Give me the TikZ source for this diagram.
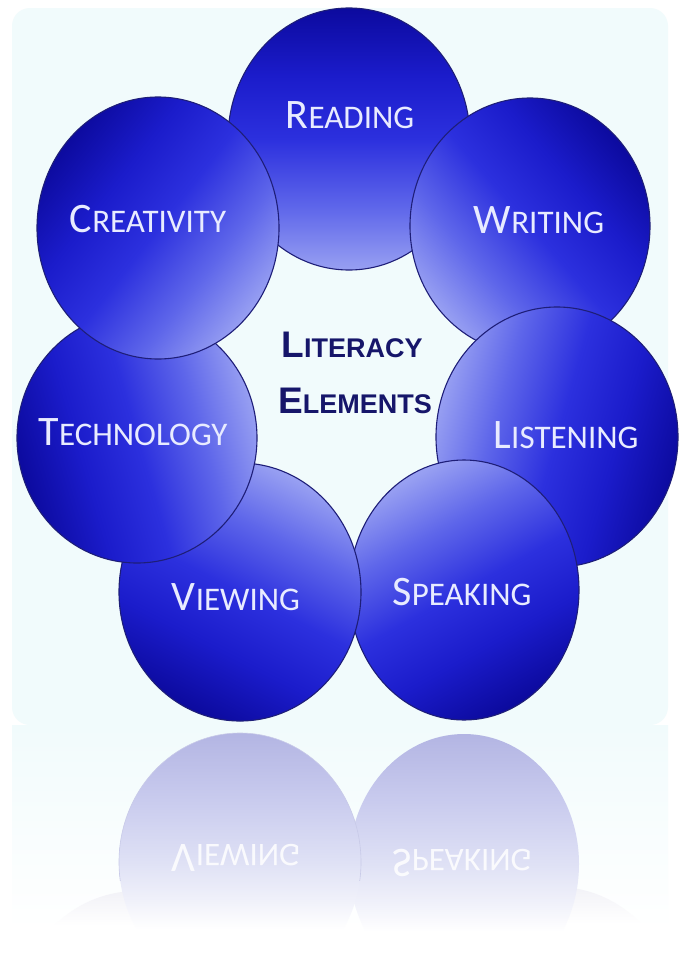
\documentclass[tikz,border=0pt]{standalone}
\usepackage{fontspec}
\setmainfont{Carlito}
\newfontfamily\litfont{Liberation Sans}
\usetikzlibrary{shapes.geometric}
\definecolor{edgec}{HTML}{1E1E78}
\definecolor{labc}{HTML}{E8EBFF}
\definecolor{navy}{HTML}{16166A}
\definecolor{panel}{HTML}{F1FBFC}
\definecolor{rfe}{HTML}{C8CAE8}
\pgfdeclareverticalshading{ballsh}{100bp}{color(0bp)=(rgb,255:red,152;green,160;blue,242);
  color(25bp)=(rgb,255:red,152;green,160;blue,242);
  color(37bp)=(rgb,255:red,94;green,102;blue,234);
  color(50bp)=(rgb,255:red,44;green,48;blue,222);
  color(62bp)=(rgb,255:red,27;green,28;blue,203);
  color(75bp)=(rgb,255:red,12;green,10;blue,158);
  color(100bp)=(rgb,255:red,12;green,10;blue,158)}
\pgfdeclareverticalshading{reflsh}{100bp}{color(0bp)=(white);
  color(37bp)=(white);
  color(42.6bp)=(rgb,255:red,240;green,241;blue,250);
  color(50bp)=(rgb,255:red,223;green,225;blue,245);
  color(62bp)=(rgb,255:red,201;green,203;blue,238);
  color(75bp)=(rgb,255:red,179;green,181;blue,227);
  color(100bp)=(rgb,255:red,179;green,181;blue,227)}
\pgfdeclareverticalshading{faintsh}{100bp}{color(0bp)=(white);
  color(68bp)=(white);
  color(75bp)=(rgb,255:red,242;green,242;blue,247);
  color(100bp)=(rgb,255:red,242;green,242;blue,247)}
\newcommand\bigsm[2]{{\fontsize{42}{42}\selectfont #1}{\fontsize{33}{33}\selectfont #2}}
\newcommand\litsm[2]{{\fontsize{37}{37}\selectfont #1}{\fontsize{27}{27}\selectfont #2}}
\begin{document}
\begin{tikzpicture}[x=1pt,y=-1pt,
  ball/.style={ellipse, draw=edgec, line width=1.1pt, inner sep=0pt, shading=ballsh},
  lbl/.style={anchor=base, text=labc, inner sep=0pt},
  ctr/.style={anchor=base, text=navy, inner sep=0pt, font=\litfont\bfseries},
  refl/.style={ellipse, draw=none, inner sep=0pt, shading=reflsh},
  reflfaint/.style={ellipse, draw=none, inner sep=0pt, shading=faintsh},
  rlbl/.style={anchor=base, text=white, inner sep=0pt, yscale=-1,
    transform shape, opacity=0.85}]
\useasboundingbox (0,0) rectangle (680,956);
\fill[white] (0,0) rectangle (680,956);
% background panel and its reflection
\fill[panel, rounded corners=18pt] (12,8) rectangle (668,725);
\shade[top color=panel, bottom color=white] (12,725) rectangle (668,930);
% reflection
\begin{scope}
\clip (0,727) rectangle (680,940);
\node[reflfaint, minimum width=240pt, minimum height=250pt] (rtech) at (137,1016) {};
\node[reflfaint, minimum width=242pt, minimum height=260pt] (rlist) at (557,1017) {};
\node[refl, minimum width=230pt, minimum height=260pt] (rspeak) at (464,864) {};
\node[refl, minimum width=242pt, minimum height=258pt] (rview) at (240,862) {};
\begin{scope}
\clip (0,727) rectangle (680,880);
\draw[rfe, line width=0.6pt] (240,862) ellipse [x radius=121, y radius=129];
\end{scope}
\node[rlbl] (rviewt) at (236,844) {\bigsm{V}{IEWING}};
\node[rlbl] (rspeakt) at (462,849) {\bigsm{S}{PEAKING}};
\end{scope}
% circles, back to front
\node[ball, minimum width=242pt, minimum height=262pt, shading angle=0] (read) at (349,139) {};
\node[ball, minimum width=240pt, minimum height=256pt, shading angle=-49] (writ) at (530,226) {};
\node[ball, minimum width=242pt, minimum height=260pt, shading angle=-106] (list) at (557,437) {};
\node[ball, minimum width=230pt, minimum height=260pt, shading angle=-151] (speak) at (464,590) {};
\node[ball, minimum width=242pt, minimum height=258pt, shading angle=153] (view) at (240,592) {};
\node[ball, minimum width=240pt, minimum height=250pt, shading angle=106] (tech) at (137,438) {};
\node[ball, minimum width=242pt, minimum height=262pt, shading angle=52] (crea) at (158,228) {};
% labels
\node[lbl] (readt) at (350,128) {\bigsm{R}{EADING}};
\node[lbl] (writt) at (539,233) {\bigsm{W}{RITING}};
\node[lbl] (listt) at (566,448) {\bigsm{L}{ISTENING}};
\node[lbl] (speakt) at (462,605) {\bigsm{S}{PEAKING}};
\node[lbl] (viewt) at (236,610) {\bigsm{V}{IEWING}};
\node[lbl] (techt) at (133,445) {\bigsm{T}{ECHNOLOGY}};
\node[lbl] (creat) at (148,232) {\bigsm{C}{REATIVITY}};
\node[ctr] (lit) at (352,357) {\litsm{L}{ITERACY}};
\node[ctr] (elem) at (355,413) {\litsm{E}{LEMENTS}};
\end{tikzpicture}
\end{document}
